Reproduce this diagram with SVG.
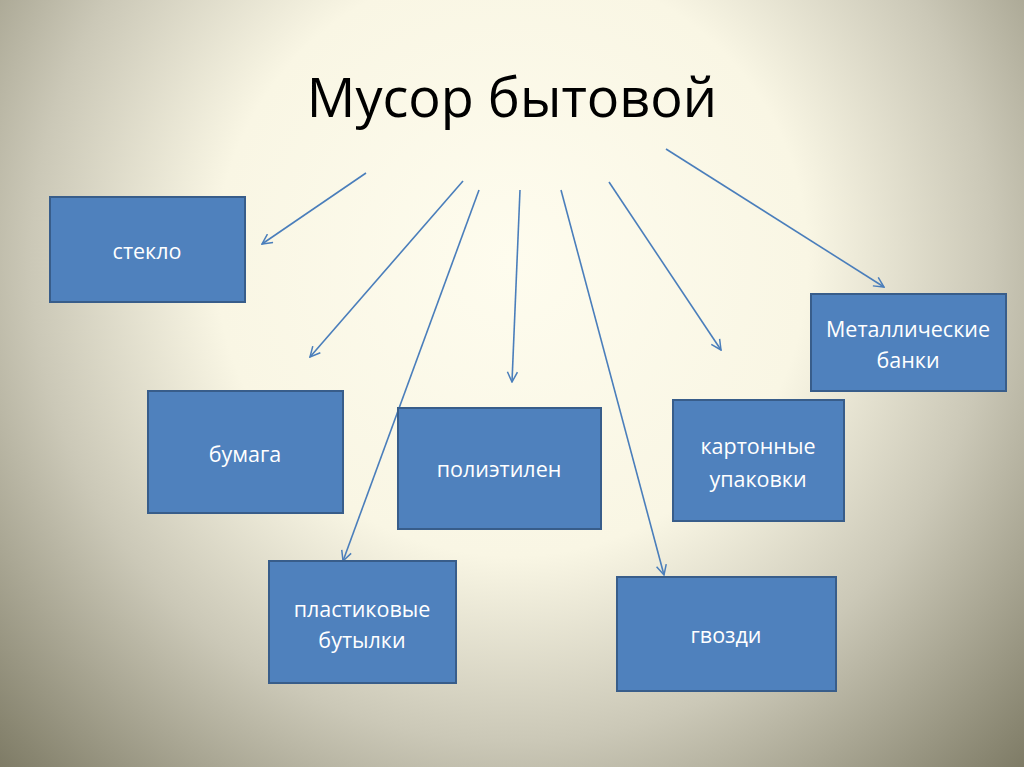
<svg xmlns="http://www.w3.org/2000/svg" width="1024" height="767" viewBox="0 0 1024 767">
<defs>
<radialGradient id="bg" gradientUnits="userSpaceOnUse" cx="512" cy="260" r="740" fx="512" fy="260">
<stop offset="0" stop-color="#fefcee"/>
<stop offset="0.4" stop-color="#f9f6e4"/>
<stop offset="0.65" stop-color="#cbc8b7"/>
<stop offset="1" stop-color="#78755f"/>
</radialGradient>
<marker id="ah" viewBox="0 0 12 12" refX="11" refY="6" markerWidth="12" markerHeight="12" markerUnits="userSpaceOnUse" orient="auto">
<path d="M1,1 L11,6 L1,11" fill="none" stroke="#4a7ebb" stroke-width="1.5"/>
</marker>
</defs>
<style>
.box{fill:#4f81bd;stroke:#385d8a;stroke-width:2}
.lbl{font-family:"Open Sans","Liberation Sans",sans-serif;font-size:21.5px;fill:#ffffff;text-anchor:middle}
.con{stroke:#4a7ebb;stroke-width:1.6;fill:none;marker-end:url(#ah)}
</style>
<rect width="1024" height="767" fill="url(#bg)"/>
<text x="512" y="117" font-family="'Open Sans','Liberation Sans',sans-serif" font-size="54" fill="#000" text-anchor="middle">Мусор бытовой</text>
<g id="connectors">
<line class="con" x1="366" y1="173" x2="262" y2="244"/>
<line class="con" x1="463" y1="181" x2="310" y2="357"/>
<line class="con" x1="479" y1="190" x2="343" y2="561"/>
<line class="con" x1="520" y1="190" x2="512" y2="382"/>
<line class="con" x1="561" y1="190" x2="664" y2="575"/>
<line class="con" x1="609" y1="182" x2="721" y2="350"/>
<line class="con" x1="666" y1="149" x2="884" y2="287"/>
</g>
<g id="n-steklo"><rect class="box" x="50" y="197" width="195" height="105"/><text class="lbl" x="147" y="259">стекло</text></g>
<g id="n-bumaga"><rect class="box" x="148" y="391" width="195" height="122"/><text class="lbl" x="245" y="462">бумага</text></g>
<g id="n-polietilen"><rect class="box" x="398" y="408" width="203" height="121"/><text class="lbl" x="499" y="477">полиэтилен</text></g>
<g id="n-karton"><rect class="box" x="673" y="400" width="171" height="121"/><text class="lbl" x="758" y="454">картонные</text><text class="lbl" x="758" y="487">упаковки</text></g>
<g id="n-metall"><rect class="box" x="811" y="294" width="195" height="97"/><text class="lbl" x="908" y="337">Металлические</text><text class="lbl" x="908" y="368">банки</text></g>
<g id="n-plastik"><rect class="box" x="269" y="561" width="187" height="122"/><text class="lbl" x="362" y="617">пластиковые</text><text class="lbl" x="362" y="648">бутылки</text></g>
<g id="n-gvozdi"><rect class="box" x="617" y="577" width="219" height="114"/><text class="lbl" x="726" y="643">гвозди</text></g>
</svg>
